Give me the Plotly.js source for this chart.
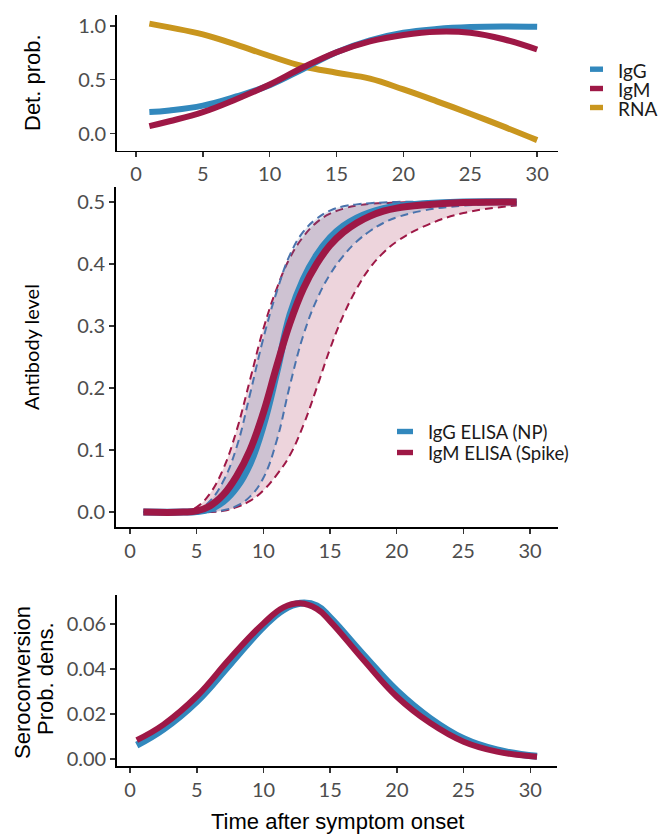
<!DOCTYPE html>
<html>
<head>
<meta charset="utf-8">
<script src="https://cdn.plot.ly/plotly-3.0.1.min.js"></script>
<style>html,body{margin:0;padding:0;background:#fff;}#chart{width:659px;height:834px;}</style>
</head>
<body>
<div id="chart"></div>
<script>
// ---------- data ----------
// Top panel: detection probability
const topX   = [1, 2.5, 5, 7.5, 10, 12.5, 15, 17.5, 20, 22.5, 25, 27.5, 30];
const topIgG = [0.20, 0.215, 0.26, 0.345, 0.45, 0.60, 0.755, 0.865, 0.935, 0.97, 0.988, 0.993, 0.99];
const topIgM = [0.07, 0.115, 0.20, 0.32, 0.455, 0.615, 0.755, 0.855, 0.915, 0.945, 0.935, 0.875, 0.78];
const topRNA = [1.02, 0.985, 0.92, 0.825, 0.72, 0.625, 0.565, 0.51, 0.41, 0.30, 0.185, 0.065, -0.06];

// Middle panel: antibody level
const midX     = [1, 4, 5, 6, 7, 8, 9, 10, 11, 12, 13, 14, 15, 16, 17, 18, 19, 20, 22, 25, 29];
const midIgG   = [0, 0, 0.001, 0.005, 0.017, 0.04, 0.078, 0.14, 0.225, 0.318, 0.375, 0.414, 0.442, 0.461, 0.474, 0.483, 0.489, 0.493, 0.497, 0.5, 0.5];
const midIgM   = [0, 0, 0.002, 0.01, 0.028, 0.058, 0.10, 0.16, 0.235, 0.305, 0.36, 0.40, 0.43, 0.451, 0.466, 0.477, 0.485, 0.49, 0.495, 0.499, 0.5];
const midIgGhi = [0, 0, 0.002, 0.018, 0.05, 0.105, 0.19, 0.28, 0.355, 0.415, 0.452, 0.473, 0.486, 0.493, 0.496, 0.498, 0.499, 0.5, 0.5, 0.5, 0.5];
const midIgGlo = [0, 0, 0, 0.001, 0.003, 0.01, 0.025, 0.055, 0.115, 0.205, 0.285, 0.342, 0.383, 0.413, 0.436, 0.453, 0.466, 0.475, 0.486, 0.494, 0.498];
const midIgMhi = [0, 0, 0.008, 0.03, 0.07, 0.132, 0.213, 0.295, 0.36, 0.41, 0.444, 0.467, 0.481, 0.489, 0.494, 0.497, 0.498, 0.499, 0.5, 0.5, 0.5];
const midIgMlo = [0, 0, 0, 0, 0.002, 0.008, 0.018, 0.035, 0.06, 0.092, 0.14, 0.20, 0.263, 0.317, 0.36, 0.394, 0.418, 0.436, 0.46, 0.482, 0.494];

// Bottom panel: seroconversion probability density
const botX   = [0.5, 2.5, 5, 7.5, 10, 11.5, 12.75, 14, 15, 17.5, 20, 22.5, 25, 27.5, 30.5];
const botIgG = [0.0062, 0.0133, 0.0256, 0.0422, 0.0588, 0.0664, 0.0692, 0.0681, 0.0628, 0.0462, 0.0303, 0.0180, 0.0090, 0.0040, 0.0012];
const botIgM = [0.0084, 0.0153, 0.0279, 0.0448, 0.0603, 0.0674, 0.0692, 0.0667, 0.0612, 0.0440, 0.0277, 0.0160, 0.0077, 0.0033, 0.0010];

// tick labels
const xTicks    = [0, 5, 10, 15, 20, 25, 30];
const topYTicks = [0, 0.5, 1.0];
const midYTicks = [0, 0.1, 0.2, 0.3, 0.4, 0.5];
const botYTicks = [0, 0.02, 0.04, 0.06];

// legend labels
const topLegend = ['IgG', 'IgM', 'RNA'];
const midLegend = ['IgG ELISA (NP)', 'IgM ELISA (Spike)'];

// ---------- style ----------
const BLUE = '#3288bd', RED = '#9e1846', GOLD = '#c9961e', BLUE_D = '#4a73ad';
const W = 659, H = 834;
const px = v => v / W, py = v => 1 - v / H;
const TICKFONT = {family: 'Lato, sans-serif', size: 20, color: '#4d4d4d'};
const sp = {shape: 'spline', smoothing: 1.2};
const DASH = '8px,5px';

const traces = [
  // top
  {x: topX, y: topRNA, xaxis: 'x', yaxis: 'y', mode: 'lines', line: Object.assign({color: GOLD, width: 6}, sp), name: 'RNA'},
  {x: topX, y: topIgG, xaxis: 'x', yaxis: 'y', mode: 'lines', line: Object.assign({color: BLUE, width: 6}, sp), name: 'IgG'},
  {x: topX, y: topIgM, xaxis: 'x', yaxis: 'y', mode: 'lines', line: Object.assign({color: RED, width: 6}, sp), name: 'IgM'},
  // middle ribbons + dashed bounds
  {x: midX, y: midIgMlo, xaxis: 'x2', yaxis: 'y2', mode: 'lines', line: Object.assign({color: RED, width: 2, dash: DASH}, sp)},
  {x: midX, y: midIgMhi, xaxis: 'x2', yaxis: 'y2', mode: 'lines', fill: 'tonexty', fillcolor: 'rgba(158,24,70,0.19)', line: Object.assign({color: RED, width: 2, dash: DASH}, sp)},
  {x: midX, y: midIgGlo, xaxis: 'x2', yaxis: 'y2', mode: 'lines', line: Object.assign({color: BLUE_D, width: 2, dash: DASH}, sp)},
  {x: midX, y: midIgGhi, xaxis: 'x2', yaxis: 'y2', mode: 'lines', fill: 'tonexty', fillcolor: 'rgba(85,125,170,0.2)', line: Object.assign({color: BLUE_D, width: 2, dash: DASH}, sp)},
  {x: midX, y: midIgG, xaxis: 'x2', yaxis: 'y2', mode: 'lines', line: Object.assign({color: BLUE, width: 7}, sp), name: midLegend[0]},
  {x: midX, y: midIgM, xaxis: 'x2', yaxis: 'y2', mode: 'lines', line: Object.assign({color: RED, width: 7}, sp), name: midLegend[1]},
  // bottom
  {x: botX, y: botIgG, xaxis: 'x3', yaxis: 'y3', mode: 'lines', line: Object.assign({color: BLUE, width: 7}, sp)},
  {x: botX, y: botIgM, xaxis: 'x3', yaxis: 'y3', mode: 'lines', line: Object.assign({color: RED, width: 6}, sp)},
];

function xax(domain, anchor, range) {
  return {domain, anchor, range, showline: true, linecolor: '#000', linewidth: 1.8,
    ticks: 'outside', ticklen: 5, tickwidth: 1.5, tickcolor: '#333', tickvals: xTicks,
    ticktext: xTicks.map(String), tickfont: TICKFONT, showgrid: false, zeroline: false, fixedrange: true};
}
function yax(domain, anchor, range, vals, dec) {
  return {domain, anchor, range, showline: true, linecolor: '#000', linewidth: 1.8,
    ticks: 'outside', ticklen: 5, tickwidth: 1.5, tickcolor: '#333', tickvals: vals,
    ticktext: vals.map(v => v.toFixed(dec)), tickfont: TICKFONT, showgrid: false, zeroline: false, fixedrange: true};
}

const ARIAL = {family: 'Liberation Sans, Arial, sans-serif', size: 22, color: '#000'};
const LATO_T = {family: 'Lato, sans-serif', size: 20, color: '#000'};
const LEG = {family: 'Lato, sans-serif', size: 18, color: '#1a1a1a'};

const annotations = [
  {text: 'Det. prob.', x: px(32), y: py(83), xref: 'paper', yref: 'paper', textangle: -90, showarrow: false, font: ARIAL, xanchor: 'center', yanchor: 'middle'},
  {text: 'Antibody level', x: px(31), y: py(347), xref: 'paper', yref: 'paper', textangle: -90, showarrow: false, font: LATO_T, xanchor: 'center', yanchor: 'middle'},
  {text: 'Seroconversion', x: px(22), y: py(683), xref: 'paper', yref: 'paper', textangle: -90, showarrow: false, font: ARIAL, xanchor: 'center', yanchor: 'middle'},
  {text: 'Prob. dens.', x: px(45), y: py(678), xref: 'paper', yref: 'paper', textangle: -90, showarrow: false, font: ARIAL, xanchor: 'center', yanchor: 'middle'},
  {text: 'Time after symptom onset', x: px(337), y: py(821), xref: 'paper', yref: 'paper', showarrow: false, font: ARIAL, xanchor: 'center', yanchor: 'middle'},
];
const shapes = [];
const topCols = [BLUE, RED, GOLD];
const topKeyY = [69.2, 88.5, 107.5];
topLegend.forEach((t, i) => {
  shapes.push({type: 'rect', xref: 'paper', yref: 'paper', x0: px(590), x1: px(603), y0: py(topKeyY[i] - 2.7), y1: py(topKeyY[i] + 2.7), fillcolor: topCols[i], line: {width: 0}});
  annotations.push({text: t, x: px(616), y: py(topKeyY[i] + 0.8), xref: 'paper', yref: 'paper', showarrow: false, font: {family: LEG.family, size: 19, color: LEG.color}, xanchor: 'left', yanchor: 'middle'});
});
const midCols = [BLUE, RED];
const midKeyY = [431.5, 452.5];
midLegend.forEach((t, i) => {
  shapes.push({type: 'rect', xref: 'paper', yref: 'paper', x0: px(397), x1: px(413), y0: py(midKeyY[i] - 2.7), y1: py(midKeyY[i] + 2.7), fillcolor: midCols[i], line: {width: 0}});
  annotations.push({text: t, x: px(426), y: py(midKeyY[i] + 0.5), xref: 'paper', yref: 'paper', showarrow: false, font: {family: LEG.family, size: 18.5, color: LEG.color}, xanchor: 'left', yanchor: 'middle'});
});

const layout = {
  width: W, height: H, margin: {l: 0, r: 0, t: 0, b: 0},
  paper_bgcolor: '#fff', plot_bgcolor: '#fff', showlegend: false,
  xaxis:  xax([px(117), px(558)], 'y',  [-1.42, 31.56]),
  yaxis:  yax([py(150.5), py(15)], 'x', [-0.156, 1.10], topYTicks, 1),
  xaxis2: xax([px(116), px(558)], 'y2', [-1.05, 32.1]),
  yaxis2: yax([py(527), py(187)], 'x2', [-0.024, 0.524], midYTicks, 1),
  xaxis3: xax([px(117), px(557)], 'y3', [-0.98, 32.0]),
  yaxis3: yax([py(766), py(595)], 'x3', [-0.0031, 0.0729], botYTicks, 2),
  annotations, shapes
};
Plotly.newPlot('chart', traces, layout, {displayModeBar: false, staticPlot: true});
</script>
</body>
</html>
